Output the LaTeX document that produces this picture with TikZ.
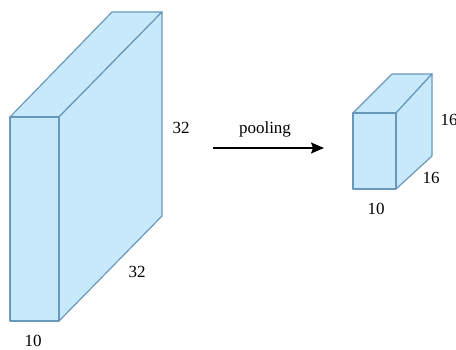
\documentclass[tikz,border=0pt]{standalone}
\usepackage{fontspec}
\setmainfont{Liberation Serif}
\usetikzlibrary{arrows.meta}
\definecolor{boxfill}{RGB}{200,233,251}
\definecolor{boxedge}{RGB}{105,152,186}
\begin{document}
\begin{tikzpicture}[x=1pt,y=-1pt,
  face/.style={fill=boxfill,draw=boxedge,line width=1.2pt,line join=round},
  lbl/.style={font=\fontsize{17}{18}\selectfont,inner sep=0pt}]
\useasboundingbox (0,0) rectangle (456,350);
% large box: front (10,117)-(59,321), offset (103,-105)
\draw[face] (10,117) -- (112,12) -- (162,12) -- (59,117) -- cycle;
\draw[face] (59,117) -- (162,12) -- (162,216) -- (59,321) -- cycle;
\draw[face] (10,117) rectangle (59,321);
% small box: front (353,113)-(396,189), offset (37,-39)
\draw[face] (353,113) -- (392,74) -- (432,74) -- (396,113) -- cycle;
\draw[face] (396,113) -- (432,74) -- (432,156) -- (396,189) -- cycle;
\draw[face] (353,113) rectangle (396,189);
% labels
\node[lbl] (h1) at (181,128) {32};
\node[lbl] (d1) at (137,272) {32};
\node[lbl] (w1) at (33,341) {10};
\node[lbl] (h2) at (449,120) {16};
\node[lbl] (d2) at (431,178) {16};
\node[lbl] (w2) at (376,209) {10};
\coordinate (a0) at (213,148);
\coordinate (a1) at (324,148);
\draw[line width=1.1pt,-{Stealth[length=13pt,width=11pt,inset=2pt]}] (a0) -- (a1);
\node[lbl] (pool) at (265,129) {pooling};
\end{tikzpicture}
\end{document}
